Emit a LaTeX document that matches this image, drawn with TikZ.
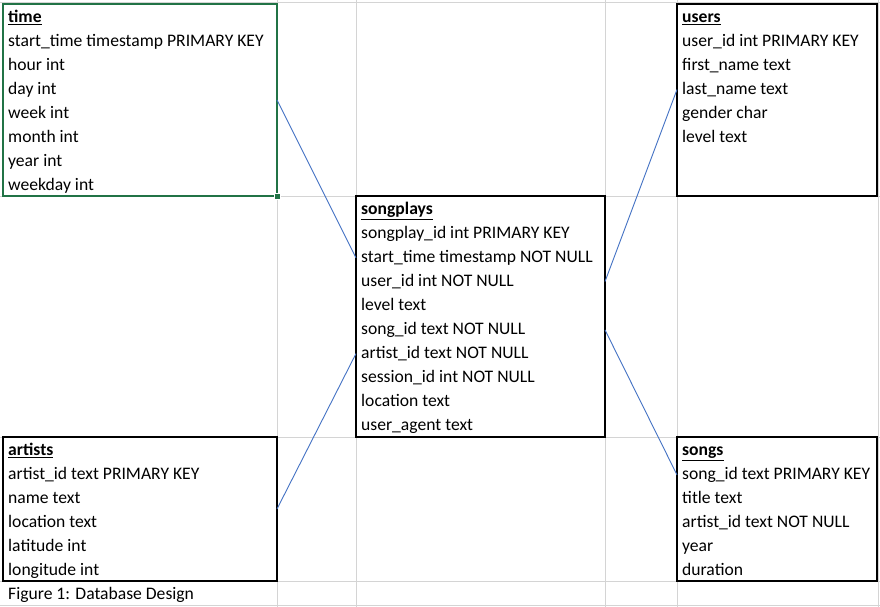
\documentclass[tikz,border=0pt]{standalone}
\usepackage{fontspec}
\setmainfont{Carlito}
\usetikzlibrary{positioning,calc}
\definecolor{gridgray}{HTML}{D4D4D4}
\definecolor{linkblue}{HTML}{4472C4}
\definecolor{selgreen}{HTML}{217346}
\tikzset{
  grid line/.style={draw=gridgray, line width=1pt},
  table box/.style={
    rectangle,
    draw=black, line width=2pt,
    inner sep=0pt, outer sep=0pt,
    anchor=north west},
  row/.style={anchor=base west, inner sep=0pt,
    font=\fontsize{17.6}{20}\selectfont},
  link/.style={draw=linkblue, line width=0.9pt},
}
\begin{document}
\begin{tikzpicture}[x=1pt, y=-1pt]
    \useasboundingbox[fill=white] (0,0) rectangle (880,607);

    %sheet grid
    \foreach \x in {277,356,605,677,878}
        \draw[grid line] (\x,0) -- (\x,607);
    \foreach \y in {3,196,437,581,605}
        \draw[grid line] (0,\y) -- (880,\y);

    %time
    \node[table box, draw=selgreen, minimum width=274, minimum height=192] (time) at (3,4) {};
    \foreach \field [count=\i] in {\underline{\textbf{time}}, start\_time timestamp PRIMARY KEY,
        hour int, day int, week int, month int, year int, weekday int}
        \node[row] (ti-\i) at ($(time.north west)+(5,18.5+24*\i-24)$) {\field};
    \node[fill=selgreen, draw=white, line width=0.8pt, minimum size=6, inner sep=0pt] (handle) at (time.south east) {};

    %users
    \node[table box, minimum width=200, minimum height=192] (users) at (677,4) {};
    \foreach \field [count=\i] in {\underline{\textbf{users}}, user\_id int PRIMARY KEY,
        first\_name text, last\_name text, gender char, level text}
        \node[row] (us-\i) at ($(users.north west)+(5,18.5+24*\i-24)$) {\field};

    %songplays
    \node[table box, minimum width=249, minimum height=241] (songplays) at (356,196) {};
    \foreach \field [count=\i] in {\underline{\textbf{songplays}}, songplay\_id int PRIMARY KEY,
        start\_time timestamp NOT NULL, user\_id int NOT NULL, level text,
        song\_id text NOT NULL, artist\_id text NOT NULL, session\_id int NOT NULL,
        location text, user\_agent text}
        \node[row] (sp-\i) at ($(songplays.north west)+(5,18.5+24*\i-24)$) {\field};

    %artists
    \node[table box, minimum width=274, minimum height=144] (artists) at (3,437) {};
    \foreach \field [count=\i] in {\underline{\textbf{artists}}, artist\_id text PRIMARY KEY,
        name text, location text, latitude int, longitude int}
        \node[row] (ar-\i) at ($(artists.north west)+(5,18.5+24*\i-24)$) {\field};

    %songs
    \node[table box, minimum width=200, minimum height=144] (songs) at (677,437) {};
    \foreach \field [count=\i] in {\underline{\textbf{songs}}, song\_id text PRIMARY KEY,
        title text, artist\_id text NOT NULL, year, duration}
        \node[row] (so-\i) at ($(songs.north west)+(5,18.5+24*\i-24)$) {\field};

    %caption
    \node[row] (caption) at (8,599.5) {Figure 1: Database Design};

    %connections
    \draw[link] (time.east) -- (songplays.west |- sp-3);
    \draw[link] (users.west |- us-4) -- (songplays.east |- sp-4);
    \draw[link] (artists.east) -- (songplays.west |- sp-7);
    \draw[link] (songplays.east |- sp-6) -- (songs.west |- so-2);

\end{tikzpicture}
\end{document}
